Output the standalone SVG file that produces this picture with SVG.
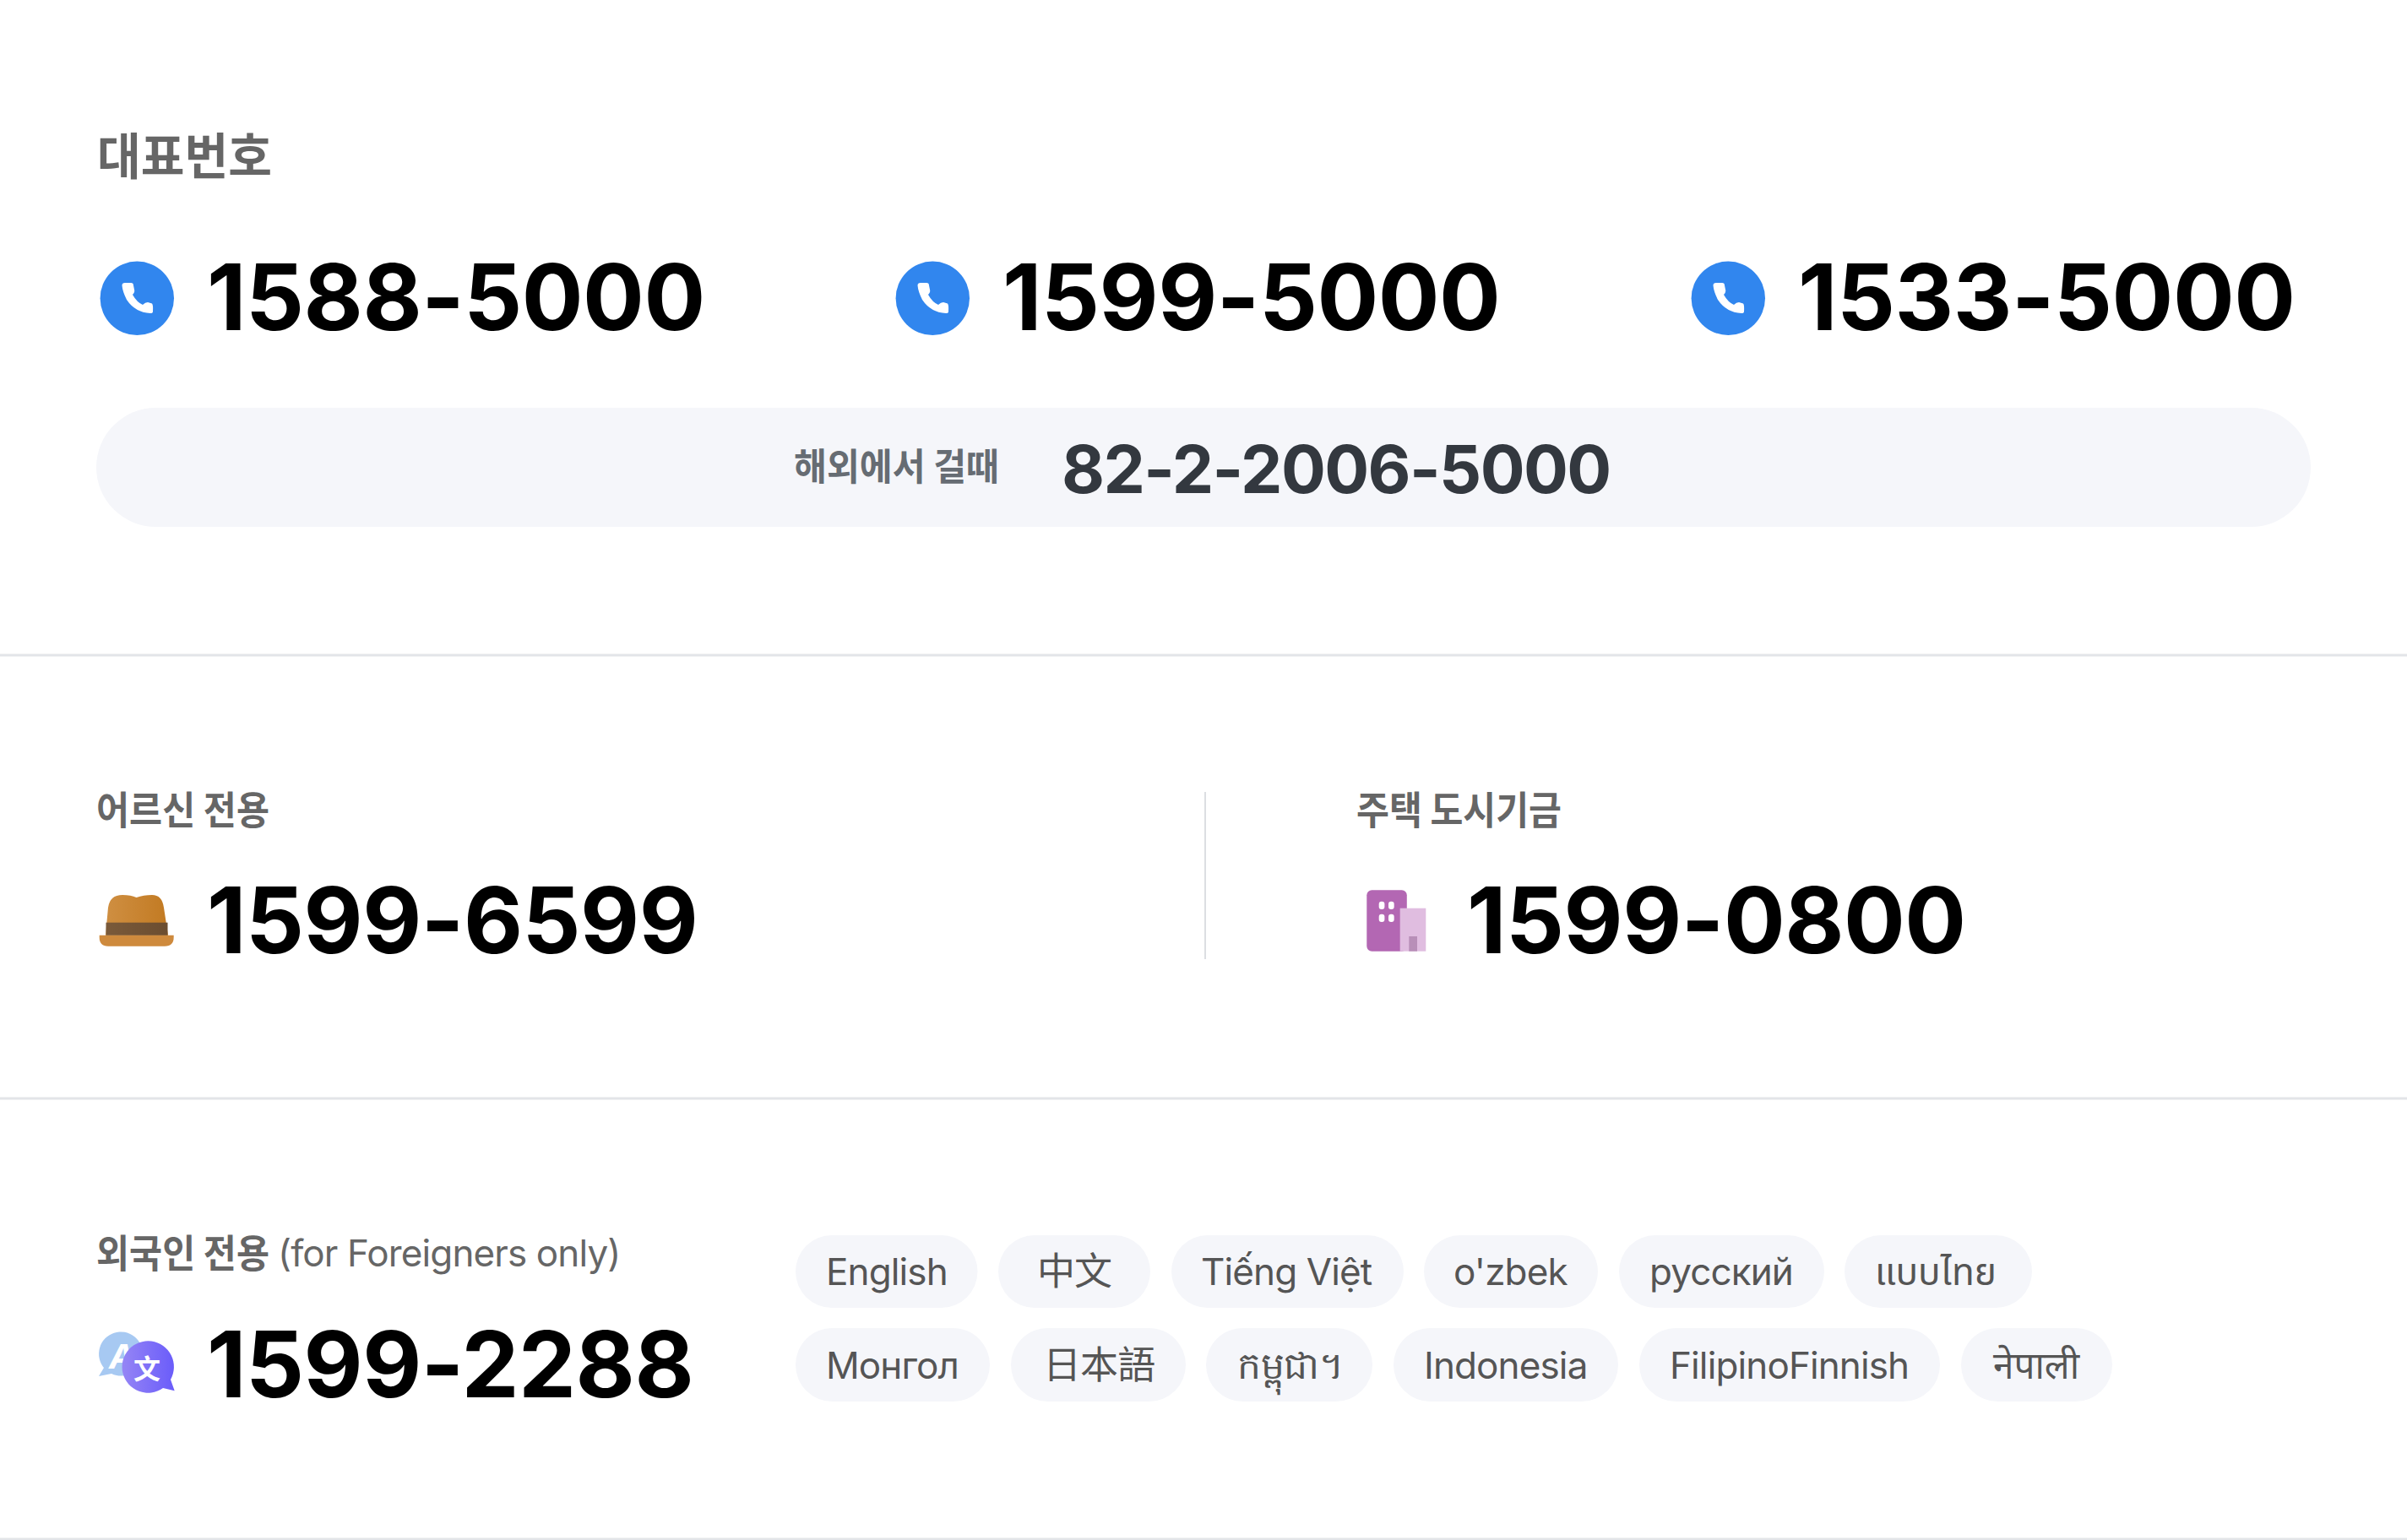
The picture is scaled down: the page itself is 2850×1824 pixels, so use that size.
<svg xmlns="http://www.w3.org/2000/svg" width="2850" height="1824" viewBox="0 0 2850 1824">
<style>
text{font-family:"Inter","Noto Sans CJK KR","Noto Sans",sans-serif}
.num{font-size:108px;font-weight:700;fill:#000;letter-spacing:-.5px}
.lab{font-size:46px;font-weight:600;fill:#666;font-family:"Noto Sans CJK KR",sans-serif}
.sep{stroke:#e3e5e8;stroke-width:3}
.tag{fill:#f5f6fa}
.tt{font-size:44px;fill:#555;letter-spacing:-.88px}
.cjk{font-family:"Noto Sans CJK TC",sans-serif;font-size:45px}
.blue{fill:#3186ee}
</style>
<defs>
<linearGradient id="hat" x1="0" y1="0" x2="1" y2="0"><stop offset="0" stop-color="#cf8f42"/><stop offset="1" stop-color="#c27a22"/></linearGradient>
<linearGradient id="band" x1="0" y1="0" x2="1" y2="0"><stop offset="0" stop-color="#7a5a3a"/><stop offset="1" stop-color="#6b4d30"/></linearGradient>
<linearGradient id="vio" x1="0" y1="0" x2="1" y2="0"><stop offset="0" stop-color="#9585f5"/><stop offset="1" stop-color="#6a5cfa"/></linearGradient>
<g id="phone"><circle cx="162.3" cy="353.3" r="43.7" class="blue"/><path fill="#fff" d="M144.5 338Q144.5 335 148 335L155 335Q158 335 158 338L159 343Q160 346 157 349Q162 358 169 361Q172 358 175 358L180 359.500Q181.500 361 181 369Q181 371 178 371Q160 370 150 355Q145 345 144.500 338Z"/></g>
</defs>
<rect width="2850" height="1824" fill="#fff"/>
<g id="connectors">
<line class="sep" x1="0" y1="776" x2="2850" y2="776"/>
<line class="sep" x1="0" y1="1301" x2="2850" y2="1301"/>
<line class="sep" x1="0" y1="1823" x2="2850" y2="1823"/>
<line x1="1427" y1="938" x2="1427" y2="1136" stroke="#dcdee2" stroke-width="2"/>
</g>
<g id="main">
<text class="lab" x="115" y="207" style="font-size:59px;font-weight:700" textLength="207" lengthAdjust="spacingAndGlyphs">대표번호</text>
<use href="#phone"/><text class="num" x="245" y="391">1588-5000</text>
<use href="#phone" x="942"/><text class="num" x="1187" y="391">1599-5000</text>
<use href="#phone" x="1884"/><text class="num" x="2129" y="391">1533-5000</text>
<rect class="tag" x="114" y="483" width="2622" height="141" rx="70.500"/>
<text class="lab" x="940" y="569" style="font-size:44px;fill:#666c73" textLength="243" lengthAdjust="spacingAndGlyphs">해외에서 걸때</text>
<text x="1257" y="584" style="font-size:78.500px;font-weight:700;fill:#33383f;letter-spacing:-1.6px">82-2-2006-5000</text>
</g>
<g id="senior">
<text class="lab" x="114" y="976" textLength="205" lengthAdjust="spacingAndGlyphs">어르신 전용</text>
<path d="M117.700 1107.700H205.700V1110Q205.700 1120.700 195 1120.700H128Q117.700 1120.700 117.700 1110Z" fill="#ce8a3d"/>
<path d="M125 1107.700L128 1075Q130 1060 145 1060Q155 1060 161.500 1063Q170 1060 180 1060Q192 1060 194 1075L199 1107.700Z" fill="url(#hat)"/>
<rect x="125.500" y="1092.700" width="73" height="15" fill="url(#band)"/>
<text class="num" x="245" y="1129">1599-6599</text>
</g>
<g id="fund">
<text class="lab" x="1606" y="976" textLength="243" lengthAdjust="spacingAndGlyphs">주택 도시기금</text>
<rect x="1618.300" y="1054.300" width="47.500" height="72.500" rx="6" fill="#b367b3"/>
<g fill="#fff"><rect x="1632.700" y="1067.700" width="6.700" height="9.300" rx="3"/><rect x="1644" y="1067.700" width="6.700" height="9.300" rx="3"/><rect x="1632.700" y="1082.700" width="6.700" height="9.300" rx="3"/><rect x="1644" y="1082.700" width="6.700" height="9.300" rx="3"/></g>
<rect x="1657.700" y="1075.700" width="30.600" height="51" fill="#e0bde0"/>
<rect x="1668.300" y="1109" width="9.700" height="17.700" fill="#b88fb8"/>
<text class="num" x="1737" y="1129">1599-0800</text>
</g>
<g id="foreign">
<text x="114" y="1501" class="lab" textLength="205" lengthAdjust="spacingAndGlyphs">외국인 전용</text>
<text x="329" y="1500" style="font-size:44px;fill:#666;letter-spacing:-.88px">(for Foreigners only)</text>
<path d="M117 1630L123 1620A26 26 0 1 1 132 1627Z" fill="#a7c9f2"/>
<text x="129" y="1621" style="font-size:40px;font-weight:700;font-style:italic;fill:#fff">A</text>
<path d="M206.700 1647.300L193 1644A30.700 30.700 0 1 1 202 1634Z" fill="url(#vio)"/>
<text x="158" y="1633" style="font-size:32px;font-weight:700;fill:#fff;font-family:'Noto Sans CJK SC',sans-serif">文</text>
<text class="num" x="245" y="1655">1599-2288</text>
</g>
<g id="tags">
<g id="t1"><rect class="tag" x="942" y="1463" width="215.500" height="86" rx="43"/><text class="tt" x="978" y="1522">English</text></g>
<g id="t2"><rect class="tag" x="1182" y="1463" width="180" height="86" rx="43"/><text class="tt cjk" x="1228" y="1522">中文</text></g>
<g id="t3"><rect class="tag" x="1387" y="1463" width="275" height="86" rx="43"/><text class="tt" x="1422" y="1522">Tiếng Việt</text></g>
<g id="t4"><rect class="tag" x="1686" y="1463" width="206" height="86" rx="43"/><text class="tt" x="1721" y="1522">o'zbek</text></g>
<g id="t5"><rect class="tag" x="1917" y="1463" width="243" height="86" rx="43"/><text class="tt" x="1953" y="1522">русский</text></g>
<g id="t6"><rect class="tag" x="2184" y="1463" width="222" height="86" rx="43"/><text class="tt" x="2220" y="1522" lang="th" style="font-family:'Noto Sans Thai','Noto Sans',Inter,sans-serif;letter-spacing:0">แบบไทย</text></g>
<g id="t7"><rect class="tag" x="942" y="1573" width="230" height="87" rx="43.500"/><text class="tt" x="978" y="1633">Монгол</text></g>
<g id="t8"><rect class="tag" x="1197" y="1573" width="207" height="87" rx="43.500"/><text class="tt cjk" x="1235" y="1633">日本語</text></g>
<g id="t9"><rect class="tag" x="1428" y="1573" width="197" height="87" rx="43.500"/><text class="tt" x="1465" y="1633" style="letter-spacing:-.5px">កម្ពុជា។</text></g>
<g id="t10"><rect class="tag" x="1650" y="1573" width="266" height="87" rx="43.500"/><text class="tt" x="1686" y="1633">Indonesia</text></g>
<g id="t11"><rect class="tag" x="1941" y="1573" width="356" height="87" rx="43.500"/><text class="tt" x="1977" y="1633">FilipinoFinnish</text></g>
<g id="t12"><rect class="tag" x="2322" y="1573" width="179" height="87" rx="43.500"/><text class="tt" x="2360" y="1633" style="letter-spacing:0">नेपाली</text></g>
</g>
</svg>
